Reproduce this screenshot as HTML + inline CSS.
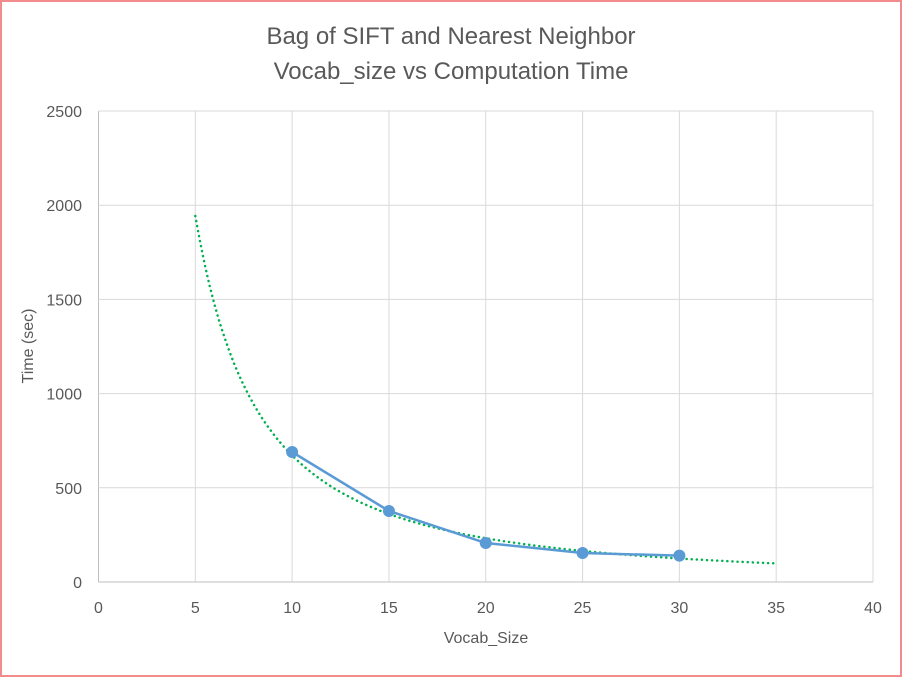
<!DOCTYPE html>
<html><head><meta charset="utf-8"><style>
body{margin:0;background:#fff}
svg{display:block;font-family:"Liberation Sans",sans-serif}
</style></head><body>
<svg width="902" height="677">
<rect x="1" y="1" width="900" height="675" fill="#fff" stroke="#f28b8b" stroke-width="2"/>
<text x="451" y="44" text-anchor="middle" font-size="24" fill="#595959">Bag of SIFT and Nearest Neighbor</text>
<text x="451" y="79" text-anchor="middle" font-size="24" fill="#595959">Vocab_size vs Computation Time</text>
<g id="grid"></g>
<g id="ticks" font-size="16" fill="#595959"></g>
<text x="486" y="643" text-anchor="middle" font-size="16" fill="#595959">Vocab_Size</text>
<text transform="translate(33,346) rotate(-90)" text-anchor="middle" font-size="16" fill="#595959">Time (sec)</text>
<g id="marks"></g>
</svg>
<script>
const xTicks=[0,5,10,15,20,25,30,35,40];
const yTicks=[0,500,1000,1500,2000,2500];
const vocab=[10,15,20,25,30];
const times=[690,377,207,154,140];
const trendRange=[5,35];
const NS='http://www.w3.org/2000/svg';
const X=v=>98.5+v*(873-98.5)/40;
const Y=v=>582-v*(582-111)/2500;
function mk(t,a,p){const e=document.createElementNS(NS,t);for(const k in a)e.setAttribute(k,a[k]);p.appendChild(e);return e;}
const g=document.getElementById('grid'),tk=document.getElementById('ticks'),m=document.getElementById('marks');
xTicks.forEach(v=>{const l=mk('line',{x1:X(v),x2:X(v),y1:Y(2500),y2:Y(0),stroke:v===0?'#bfbfbf':'#d9d9d9','stroke-width':1},g);

const t=mk('text',{x:X(v),y:613,'text-anchor':'middle'},tk);t.textContent=v;
});
yTicks.forEach(v=>{const l=mk('line',{x1:X(0),x2:X(40),y1:Y(v),y2:Y(v),stroke:v===0?'#bfbfbf':'#d9d9d9','stroke-width':1},g);

const t=mk('text',{x:82,y:Y(v)+6,'text-anchor':'end'},tk);t.textContent=v;
});
let n=vocab.length,sx=0,sy=0,sxx=0,sxy=0;
vocab.forEach((x,i)=>{const lx=Math.log(x),ly=Math.log(times[i]);sx+=lx;sy+=ly;sxx+=lx*lx;sxy+=lx*ly;});
const b=(n*sxy-sx*sy)/(n*sxx-sx*sx),a=Math.exp((sy-b*sx)/n);
let d='';for(let i=0;i<=120;i++){const x=trendRange[0]+(trendRange[1]-trendRange[0])*i/120;d+=(i?'L':'M')+X(x).toFixed(1)+','+Y(a*Math.pow(x,b)).toFixed(1);}
const tr=mk('path',{d:d,fill:'none',stroke:'#00b050','stroke-width':2.5,'stroke-dasharray':'0.1 5','stroke-linecap':'round'},m);

const ln=mk('polyline',{points:vocab.map((x,i)=>X(x)+','+Y(times[i])).join(' '),fill:'none',stroke:'#5b9bd5','stroke-width':2.5},m);

vocab.forEach((x,i)=>{const c=mk('circle',{cx:X(x),cy:Y(times[i]),r:6,fill:'#5b9bd5'},m);
});
</script>
</body></html>
